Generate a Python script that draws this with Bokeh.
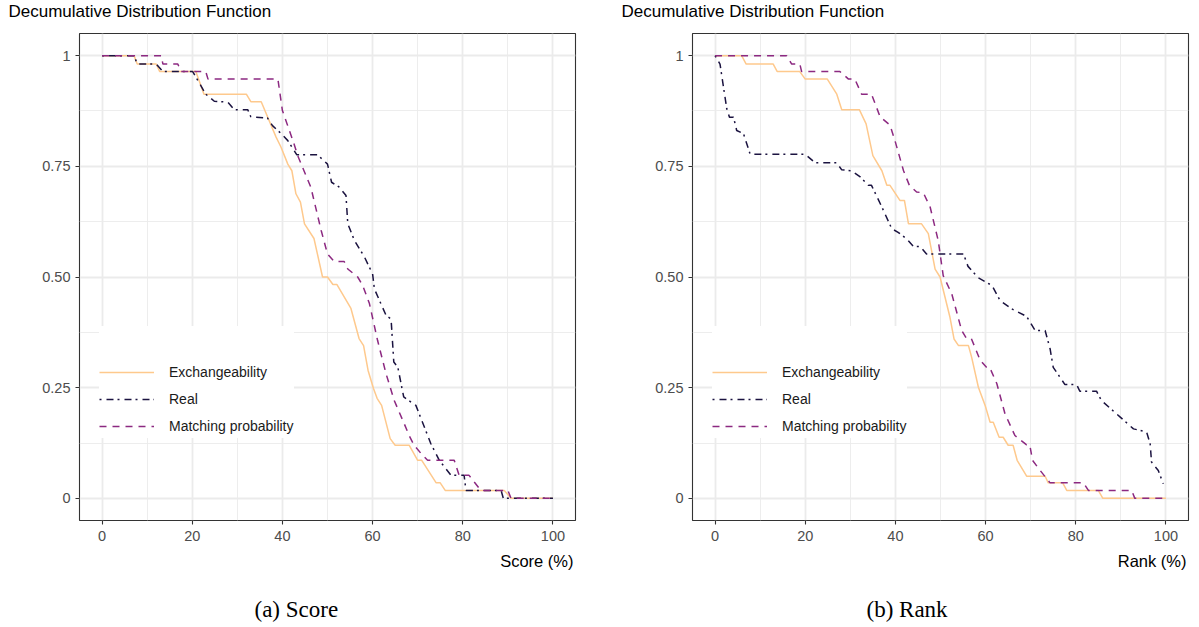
from bokeh.plotting import figure
from bokeh.models import FixedTicker, Legend, LegendItem, Title, Range1d
from bokeh.layouts import row
from bokeh.embed import file_html
from bokeh.resources import INLINE

# ---------------- data ----------------
series_names = ["Exchangeability", "Real", "Matching probability"]
series_colors = ["#FEC98D", "#1B1340", "#8C2981"]
series_dashes = ["solid", "2 5 7 4", "7 6"]

# Panel (a): Score (%)
score_exch_x = [0, 7.1, 7.8, 12, 12.8, 20.8, 22.6, 32, 33, 35.3, 38.6, 39.7, 41.2, 42.1, 43, 44, 44.9, 47, 48.9, 50,
                51.2, 52.1, 55.2, 57, 58, 59, 60.2, 61, 62, 63.9, 65, 68.1, 70, 70.9, 74.1, 75, 76.1, 89.2, 90.7, 100]
score_exch_y = [1, 1, 0.981, 0.981, 0.964, 0.964, 0.913, 0.913, 0.896, 0.896, 0.816, 0.793, 0.755, 0.74, 0.688, 0.669,
                0.62, 0.587, 0.5, 0.5, 0.483, 0.483, 0.429, 0.361, 0.345, 0.289, 0.248, 0.226, 0.21, 0.135, 0.12, 0.12,
                0.086, 0.086, 0.035, 0.035, 0.018, 0.018, 0, 0]

score_real_x = [0, 7.1, 7.8, 12, 13.5, 20.1, 23, 24.9, 27.9, 29.3, 32.3, 33, 36.7, 37.8, 39.7, 41.2, 43.2, 47.8, 50, 50.9,
                52.6, 54.1, 54.5, 56, 58.2, 60, 60.4, 63, 64.1, 64.7, 65.6, 66.9, 69.6, 72.9, 74.8, 77.4, 80.3, 80.7,
                88.5, 89, 100]
score_real_y = [1, 1, 0.981, 0.981, 0.964, 0.964, 0.913, 0.897, 0.895, 0.878, 0.878, 0.862, 0.859, 0.842, 0.824, 0.808,
                0.776, 0.776, 0.755, 0.714, 0.703, 0.684, 0.62, 0.582, 0.545, 0.507, 0.473, 0.413, 0.405, 0.308, 0.296,
                0.229, 0.21, 0.124, 0.086, 0.052, 0.052, 0.018, 0.018, 0, 0]

score_match_x = [0, 13.1, 13.5, 16.8, 17.5, 23, 23.5, 39, 40, 42.6, 43.4, 46.3, 48.6, 50, 51.5, 53.7, 54.5, 56.7, 57.8,
                 59.3, 61.1, 63, 64.8, 67, 68.1, 69.2, 70.7, 72.2, 78.1, 79.2, 81.4, 84, 90, 90.7, 100]
score_match_y = [1, 1, 0.981, 0.981, 0.964, 0.964, 0.947, 0.947, 0.876, 0.8, 0.774, 0.703, 0.605, 0.552, 0.535, 0.535,
                 0.518, 0.5, 0.481, 0.44, 0.357, 0.281, 0.221, 0.169, 0.142, 0.12, 0.102, 0.086, 0.086, 0.052, 0.052,
                 0.018, 0.018, 0, 0]

# Panel (b): Rank (%)
rank_exch_x = [0, 5.9, 6.9, 12.9, 13.8, 18.8, 20, 24.9, 27, 28.1, 32, 33.5, 35, 37, 38.1, 38.8, 41, 42, 42.9, 45.8,
               47.3, 48.8, 49.9, 52.1, 53, 54, 56.2, 56.9, 58.4, 59.9, 61, 61.7, 63, 63.9, 65, 66.1, 67, 69.1, 73.2,
               73.9, 77.1, 78, 85, 86, 100]
rank_exch_y = [1, 1, 0.981, 0.981, 0.964, 0.964, 0.947, 0.947, 0.913, 0.878, 0.878, 0.846, 0.774, 0.74, 0.707, 0.707,
               0.673, 0.673, 0.62, 0.62, 0.598, 0.518, 0.5, 0.409, 0.36, 0.345, 0.345, 0.319, 0.251, 0.21, 0.172,
               0.172, 0.138, 0.138, 0.12, 0.12, 0.086, 0.05, 0.05, 0.035, 0.035, 0.018, 0.018, 0, 0]

rank_real_x = [0, 1.1, 2.6, 3.2, 4.1, 4.8, 6.3, 7.8, 20, 22.2, 27, 28.1, 30.3, 32.2, 34, 34.7, 37, 39.2, 40.6, 42.5,
               44, 45.5, 46.9, 55.1, 56.1, 58.4, 61.4, 63.2, 65.8, 69.1, 71, 73.2, 74.3, 75, 77.6, 80.2, 80.9, 84.6,
               85.7, 89.8, 92.8, 95.7, 96.5, 96.8, 98.3, 99.4]
rank_real_y = [1, 0.981, 0.88, 0.861, 0.861, 0.831, 0.824, 0.777, 0.777, 0.758, 0.758, 0.742, 0.74, 0.726, 0.707,
               0.707, 0.658, 0.609, 0.601, 0.586, 0.569, 0.569, 0.552, 0.552, 0.524, 0.498, 0.481, 0.447, 0.428,
               0.411, 0.379, 0.379, 0.338, 0.296, 0.257, 0.257, 0.242, 0.242, 0.221, 0.184, 0.157, 0.15, 0.123,
               0.082, 0.063, 0.033]

rank_match_x = [0, 15.9, 17, 18.8, 19.2, 27.7, 29.6, 31, 32.5, 34.7, 36.6, 38.8, 39.9, 41.8, 43.1, 44.7, 46.2, 47.7,
                49.5, 50.6, 52.5, 54.7, 55.7, 56.8, 58.8, 60.2, 60.9, 62.5, 64.3, 66.5, 69.1, 69.8, 70.4, 72.1, 74.3,
                81.7, 82.8, 92.4, 93.1, 100]
rank_match_y = [1, 1, 0.981, 0.981, 0.964, 0.964, 0.947, 0.947, 0.913, 0.913, 0.862, 0.843, 0.808, 0.74, 0.707, 0.692,
                0.69, 0.658, 0.582, 0.503, 0.462, 0.379, 0.362, 0.362, 0.312, 0.296, 0.296, 0.259, 0.191, 0.142, 0.121,
                0.121, 0.086, 0.063, 0.035, 0.035, 0.018, 0.018, 0, 0]

x_ticks = [0, 20, 40, 60, 80, 100]
x_minor = [10, 30, 50, 70, 90]
y_ticks = [0, 0.25, 0.5, 0.75, 1]
y_minor = [0.125, 0.375, 0.625, 0.875]
y_labels = ["0", "0.25", "0.50", "0.75", "1"]

title_text = "Decumulative Distribution Function"

SANS = "Liberation Sans"
SERIF = "Liberation Serif"
FRAME_W, FRAME_H = 496, 487


def make_panel(series, xlabel, caption, border_right, caption_offset):
    p = figure(frame_width=FRAME_W, frame_height=FRAME_H,
               x_range=Range1d(-5, 105), y_range=Range1d(-0.05, 1.05),
               output_backend="svg", toolbar_location=None,
               min_border_left=79, min_border_right=border_right,
               min_border_top=33, min_border_bottom=5)
    p.background_fill_color = "white"
    p.border_fill_color = "white"
    p.outline_line_color = "#333333"
    p.outline_line_width = 1.1

    # title: spacer panel next to the frame, then the title panel further out
    top_spacer = Title(text=" ", align="left", text_font=SANS, text_font_size="5px", standoff=3)
    p.add_layout(top_spacer, "above")
    main_title = Title(text=title_text, align="left", offset=-71, vertical_align="top",
                       text_font=SANS, text_font_size="17px", text_font_style="normal",
                       text_color="black", standoff=0)
    p.add_layout(main_title, "above")

    # axes
    p.xaxis.ticker = FixedTicker(ticks=x_ticks, minor_ticks=x_minor)
    p.yaxis.ticker = FixedTicker(ticks=y_ticks, minor_ticks=y_minor)
    p.yaxis.major_label_overrides = {t: l for t, l in zip(y_ticks, y_labels)}
    for ax in (p.xaxis, p.yaxis):
        ax.axis_line_color = None
        ax.major_tick_line_color = "#333333"
        ax.major_tick_line_width = 1.1
        ax.major_tick_out = 4
        ax.major_tick_in = 0
        ax.minor_tick_line_color = None
        ax.major_label_text_font = SANS
        ax.major_label_text_font_size = "14.5px"
        ax.major_label_text_color = "#4D4D4D"
    p.xaxis.major_label_standoff = 6
    p.yaxis.major_label_standoff = 5

    for g in (p.xgrid, p.ygrid):
        g.grid_line_color = "#EBEBEB"
        g.grid_line_width = 1.8
        g.minor_grid_line_color = "#EBEBEB"
        g.minor_grid_line_width = 0.9

    items = []
    for (xs, ys), name, color, dash in zip(series, series_names, series_colors, series_dashes):
        r = p.line(xs, ys, line_color=color, line_width=1.5, line_dash=dash)
        items.append(LegendItem(label=name, renderers=[r]))

    legend = Legend(items=items, location=(20, 82))
    legend.title = " "
    legend.title_text_font_size = "12px"
    legend.title_standoff = 20
    legend.padding = 10
    legend.margin = 0
    legend.spacing = 3
    legend.glyph_width = 55
    legend.glyph_height = 24
    legend.label_height = 24
    legend.label_standoff = 15
    legend.label_text_font = SANS
    legend.label_text_font_size = "14px"
    legend.label_text_color = "#1A1A1A"
    legend.border_line_color = None
    legend.background_fill_color = "white"
    legend.background_fill_alpha = 1
    p.add_layout(legend, "center")

    xt = Title(text=xlabel, align="right", offset=2, text_font=SANS, text_font_size="16.5px",
               text_font_style="normal", text_color="black", standoff=12)
    p.add_layout(xt, "below")
    spacer = Title(text=" ", align="left", text_font=SANS, text_font_size="9px", standoff=4)
    p.add_layout(spacer, "below")
    cap = Title(text=caption, align="left", offset=caption_offset, text_font=SERIF, text_font_size="23px",
                text_font_style="normal", text_color="black", standoff=6)
    p.add_layout(cap, "below")
    return p


left = make_panel([(score_exch_x, score_exch_y), (score_real_x, score_real_y), (score_match_x, score_match_y)],
                  "Score (%)", "(a) Score", 38, 175)
right = make_panel([(rank_exch_x, rank_exch_y), (rank_real_x, rank_real_y), (rank_match_x, rank_match_y)],
                   "Rank (%)", "(b) Rank", 3, 174)

layout = row(left, right, spacing=0)
open("out.html", "w").write(file_html(layout, INLINE))
